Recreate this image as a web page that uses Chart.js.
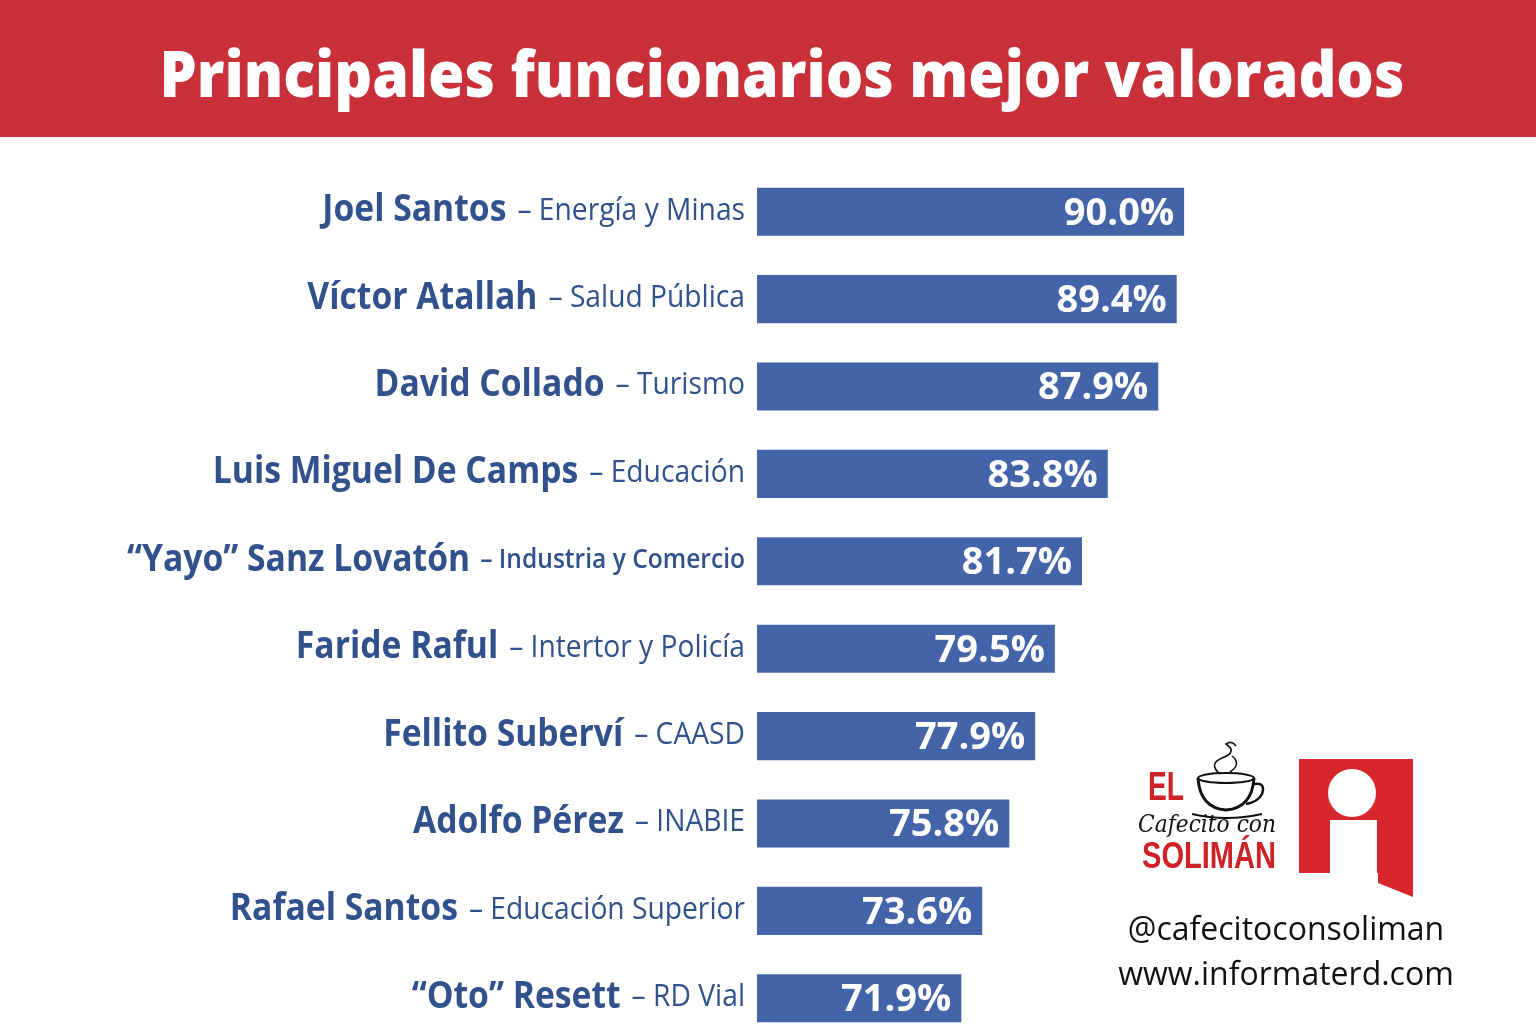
<!DOCTYPE html>
<html>
<head>
<meta charset="utf-8">
<script src="https://cdn.jsdelivr.net/npm/chart.js@4"></script>
<style>
  body { margin: 0; width: 1536px; height: 1024px; overflow: hidden; background: #fff; position: relative; }
  #header { position: absolute; left: 0; top: 0; width: 1536px; height: 137px; background: #c9303a; z-index: 2; }
  #title { position: absolute; left: 782px; top: 73px; white-space: nowrap; color: #fff;
           font-family: "Open Sans", sans-serif; font-weight: 800; font-size: 64px; line-height: 1; }
  #wrap { position: absolute; left: 0; top: 0; width: 1536px; height: 1048px; }
  #logos { position: absolute; left: 1100px; top: 740px; width: 436px; height: 284px; z-index: 3; }
  .handle { position: absolute; left: 186px; width: 0; white-space: nowrap; font-family: "Open Sans", sans-serif;
            font-size: 32px; color: #111; }
  .handle span { display: inline-block; transform: translateX(-50%); }
</style>
</head>
<body>
<div id="header"><span id="title">Principales funcionarios mejor valorados</span></div>
<div id="wrap"><canvas id="chart"></canvas></div>
<div id="logos">
  <svg width="436" height="170" viewBox="0 0 436 170" style="position:absolute;left:0;top:0">
    <text x="48" y="60" font-family="Liberation Sans, sans-serif" font-weight="bold" font-size="40" fill="#cf2228" textLength="36" lengthAdjust="spacingAndGlyphs">EL</text>
    <path d="M98 38 Q100 68 126 70 Q152 68 154 38" fill="none" stroke="#111" stroke-width="3"/>
    <ellipse cx="126" cy="38" rx="28" ry="5" fill="none" stroke="#111" stroke-width="2"/>
    <path d="M154 44 Q166 42 162 54 Q158 62 146 64" fill="none" stroke="#111" stroke-width="2.5"/>
    <path d="M92 74 Q126 82 162 74" fill="none" stroke="#111" stroke-width="2"/>
    <path d="M120 34 Q108 24 122 18 Q138 12 126 4 Q132 0 136 6 M130 32 Q142 24 132 16" fill="none" stroke="#111" stroke-width="1.6"/>
    <text x="38" y="92" font-family="DejaVu Serif, serif" font-style="italic" font-size="25" fill="#111" textLength="138" lengthAdjust="spacingAndGlyphs">Cafecito con</text>
    <text x="42" y="128" font-family="Liberation Sans, sans-serif" font-weight="bold" font-size="36" fill="#cf2228" textLength="134" lengthAdjust="spacingAndGlyphs">SOLIMÁN</text>
    <path d="M199 19 L313 19 L313 157 L278 143 L278 133 L230 133 L199 133 Z" fill="#d8262d"/>
    <circle cx="252" cy="53" r="24" fill="#fff"/>
    <path d="M230 80 L277 80 L277 134 L230 134 Z" fill="#fff"/>
  </svg>
  <div class="handle" style="top:166px"><span>@cafecitoconsoliman</span></div>
  <div class="handle" style="top:211px"><span>www.informaterd.com</span></div>
</div>
<script>
// categories and values
const names = ['Joel Santos', 'Víctor Atallah', 'David Collado', 'Luis Miguel De Camps', '“Yayo” Sanz Lovatón',
               'Faride Raful', 'Fellito Suberví', 'Adolfo Pérez', 'Rafael Santos', '“Oto” Resett'];
const offices = ['Energía y Minas', 'Salud Pública', 'Turismo', 'Educación', 'Industria y Comercio',
                 'Intertor y Policía', 'CAASD', 'INABIE', 'Educación Superior', 'RD Vial'];
const ratings = [90.0, 89.4, 87.9, 83.8, 81.7, 79.5, 77.9, 75.8, 73.6, 71.9];

// fit the title width to the banner text
const title = document.getElementById('title');
const tw = title.offsetWidth;
title.style.transform = 'translate(-50%, -50%) scaleX(' + (1245 / tw) + ')';

const textBlue = '#31518d';
const squeeze = 0.91;

const rowLabels = {
  id: 'rowLabels',
  afterDatasetsDraw(chart) {
    const ctx = chart.ctx;
    const yScale = chart.scales.y;
    const meta = chart.getDatasetMeta(0);
    ctx.save();
    names.forEach((name, i) => {
      const y = yScale.getPixelForValue(i);
      // name + office, right aligned before the bars
      ctx.save();
      ctx.translate(745, y - 1);
      ctx.scale(squeeze, 1);
      ctx.fillStyle = textBlue;
      ctx.textBaseline = 'middle';
      ctx.textAlign = 'right';
      ctx.font = (i === 4 ? '600 27px' : '400 31px') + ' "Open Sans", sans-serif';
      const office = ' – ' + offices[i];
      ctx.fillText(office, 0, 0);
      const w = ctx.measureText(office).width;
      ctx.font = '700 37px "Open Sans", sans-serif';
      ctx.fillText(name, -w - 4, 0);
      ctx.restore();
      // value inside the bar
      const bar = meta.data[i];
      ctx.fillStyle = '#ffffff';
      ctx.font = '700 38px "Open Sans", sans-serif';
      ctx.textAlign = 'right';
      ctx.textBaseline = 'middle';
      ctx.fillText(ratings[i].toFixed(1) + '%', bar.x - 10, y + 2);
    });
    ctx.restore();
  }
};

new Chart(document.getElementById('chart'), {
  type: 'bar',
  data: {
    labels: names,
    datasets: [{
      data: ratings,
      backgroundColor: '#4464a9',
      borderWidth: 0,
      barPercentage: 0.55,
      categoryPercentage: 1
    }]
  },
  options: {
    indexAxis: 'y',
    responsive: true,
    maintainAspectRatio: false,
    animation: false,
    layout: { padding: { left: 757, right: 6, top: 168, bottom: 6 } },
    scales: {
      x: { display: false, min: 55.3, max: 118.1, grid: { display: false } },
      y: { display: false, grid: { display: false } }
    },
    plugins: {
      legend: { display: false },
      tooltip: { enabled: false }
    }
  },
  plugins: [rowLabels]
});
</script>
</body>
</html>
